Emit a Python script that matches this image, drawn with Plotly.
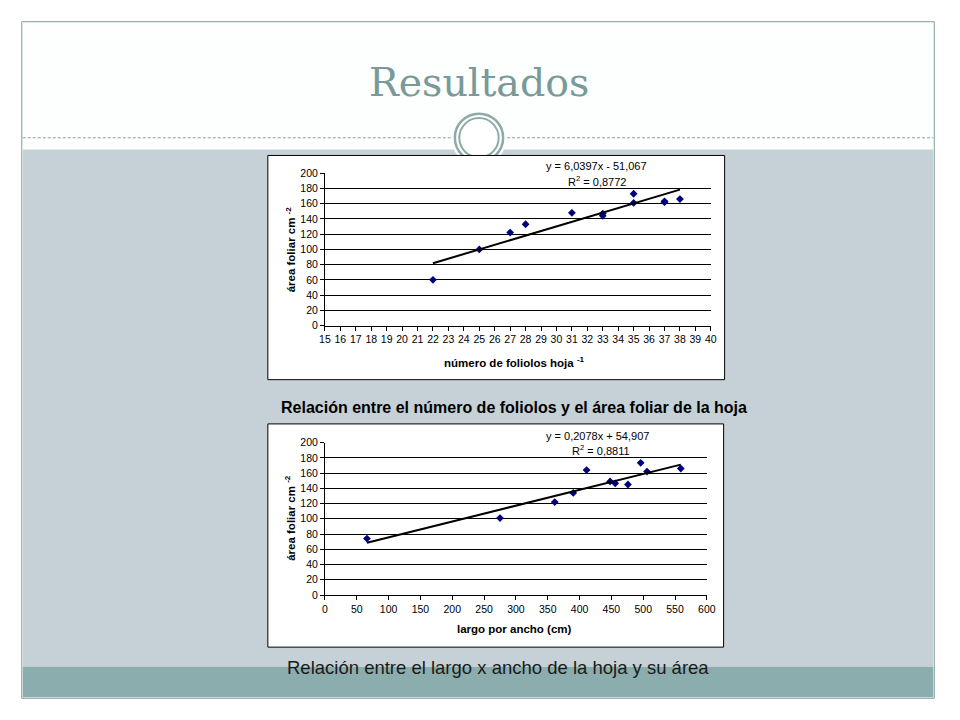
import plotly.graph_objects as go

# chart 1: number of leaflets vs leaf area
folioles_x = [22, 25, 27, 28, 31, 33, 33, 35, 35, 37, 37, 38]
folioles_y = [60, 100, 122, 133, 148, 144, 147, 173, 161, 162, 163, 166]
trend1_x = [22, 38]
trend1_y = [81.8, 178.4]

# chart 2: length x width vs leaf area
largo_x = [66, 275, 361, 390, 411, 448, 456, 476, 496, 506, 559]
largo_y = [74, 101, 122, 134, 164, 149, 146.5, 145, 173.5, 162, 166]
trend2_x = [66, 559]
trend2_y = [68.6, 171.1]

W, H = 960, 720


def px(x):
    return x / W


def py(y):
    return 1 - y / H


NAVY = "#000080"
FONT = "Liberation Sans, Arial, sans-serif"

fig = go.Figure()

fig.add_trace(go.Scatter(x=folioles_x, y=folioles_y, mode="markers",
                         marker=dict(symbol="diamond", size=6, color=NAVY),
                         xaxis="x", yaxis="y", showlegend=False))
fig.add_trace(go.Scatter(x=trend1_x, y=trend1_y, mode="lines",
                         line=dict(color="black", width=2),
                         xaxis="x", yaxis="y", showlegend=False))
fig.add_trace(go.Scatter(x=largo_x, y=largo_y, mode="markers",
                         marker=dict(symbol="diamond", size=6, color=NAVY),
                         xaxis="x2", yaxis="y2", showlegend=False))
fig.add_trace(go.Scatter(x=trend2_x, y=trend2_y, mode="lines",
                         line=dict(color="black", width=2),
                         xaxis="x2", yaxis="y2", showlegend=False))

axis_common = dict(showline=True, linecolor="black", linewidth=1,
                   ticks="outside", ticklen=4, tickcolor="black",
                   zeroline=False, tickfont=dict(family=FONT, size=10.5, color="black"))

fig.update_layout(
    width=W, height=H,
    margin=dict(l=0, r=0, t=0, b=0),
    paper_bgcolor="white",
    plot_bgcolor="rgba(0,0,0,0)",
    xaxis=dict(domain=[px(324), px(716)], range=[15, 40], dtick=1,
               showgrid=False, anchor="y", **axis_common),
    yaxis=dict(domain=[py(325), py(170)], range=[0, 200], dtick=20,
               showgrid=True, gridcolor="black", gridwidth=1, anchor="x",
               **axis_common),
    xaxis2=dict(domain=[px(324), px(712)], range=[0, 600], dtick=50,
                showgrid=False, anchor="y2", **axis_common),
    yaxis2=dict(domain=[py(599), py(444)], range=[0, 200], dtick=20,
                showgrid=True, gridcolor="black", gridwidth=1, anchor="x2",
                **axis_common),
)

shapes = [
    # slide frame
    dict(type="rect", x0=px(16), x1=px(943), y0=py(704), y1=py(16),
         fillcolor="#FDFEFE", line=dict(color="#809C9B", width=1)),
    # grey band
    dict(type="rect", x0=px(17), x1=px(942), y0=py(672), y1=py(146),
         fillcolor="#C5D1D7", line=dict(width=0)),
    # dark band
    dict(type="rect", x0=px(17), x1=px(942), y0=py(703), y1=py(672),
         fillcolor="#8CADAD", line=dict(width=0)),
    # dashed line
    dict(type="line", x0=px(17), x1=px(452), y0=py(134), y1=py(134),
         line=dict(color="#8E9E9E", width=1, dash="3px,2px")),
    dict(type="line", x0=px(509), x1=px(942), y0=py(134), y1=py(134),
         line=dict(color="#8E9E9E", width=1, dash="3px,2px")),
    # white disc around the ornament
    dict(type="circle", x0=px(452), x1=px(509), y0=py(162), y1=py(105),
         fillcolor="#FDFEFE", line=dict(width=0)),
    # ornament rings
    dict(type="circle", x0=px(456), x1=px(505), y0=py(158.5), y1=py(109.5),
         fillcolor="white", line=dict(color="#8FA9A9", width=2.5)),
    dict(type="circle", x0=px(460.5), x1=px(500.5), y0=py(154), y1=py(114),
         fillcolor="white", line=dict(color="#8FA9A9", width=2)),
    # chart boxes
    dict(type="rect", x0=px(266), x1=px(730), y0=py(380), y1=py(152),
         fillcolor="white", line=dict(color="black", width=1)),
    dict(type="rect", x0=px(266), x1=px(729), y0=py(652), y1=py(425),
         fillcolor="white", line=dict(color="black", width=1)),
]
for s in shapes:
    s.update(xref="paper", yref="paper", layer="below")
fig.update_layout(shapes=shapes)


def note(x, y, text, size=11, family=FONT, color="black", angle=0):
    fig.add_annotation(x=px(x), y=py(y), xref="paper", yref="paper",
                       text=text, showarrow=False, textangle=angle,
                       xanchor="center", yanchor="middle",
                       font=dict(family=family, size=size, color=color))


note(481, 77, "Resultados", size=39.5, family="DejaVu Serif, serif", color="#789A99")

# chart 1 texts
note(600, 163, "y = 6,0397x - 51,067")
note(600, 178, "R<sup>2</sup> = 0,8772")
note(517, 362, "<b>número de foliolos hoja <sup>-1</sup></b>", size=11.5)
note(289, 247, "<b>área foliar cm <sup>-2</sup></b>", size=11.5, angle=-90)
note(516, 408, "<b>Relación entre el número de foliolos y el área foliar de la hoja</b>", size=16)

# chart 2 texts
note(601, 437, "y = 0,2078x + 54,907")
note(604, 452, "R<sup>2</sup> = 0,8811")
note(517, 634, "<b>largo por ancho (cm)</b>", size=11.5)
note(289, 520, "<b>área foliar cm <sup>-2</sup></b>", size=11.5, angle=-90)
note(500, 673, "Relación entre el largo x ancho de la hoja y su área", size=18.5,
     family=FONT, color="#1A1A1A")

fig.write_html("out.html", config={"displayModeBar": False},
               post_script="document.body.style.margin='0';document.body.style.overflow='hidden';")
